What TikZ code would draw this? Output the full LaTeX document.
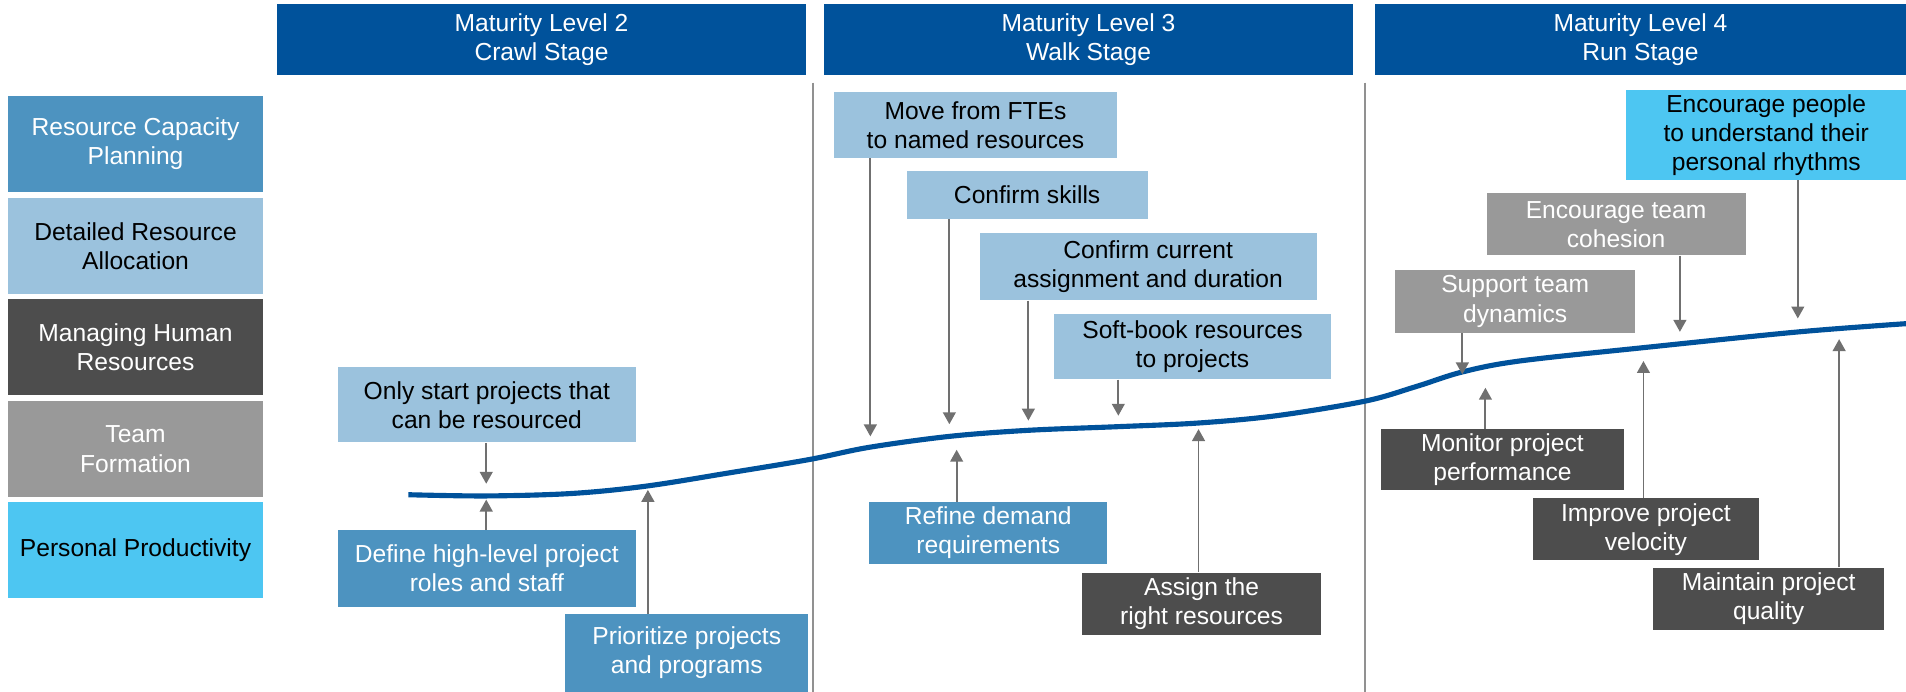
\documentclass[tikz,border=0pt]{standalone}
\usepackage{fontspec}
\setmainfont{Liberation Sans}
\usetikzlibrary{arrows.meta}

\definecolor{hblue}{RGB}{0,82,155}
\definecolor{mblue}{RGB}{77,147,192}
\definecolor{lblue}{RGB}{155,194,221}
\definecolor{dgray}{RGB}{77,77,77}
\definecolor{mgray}{RGB}{153,153,153}
\definecolor{cyanb}{RGB}{77,198,242}
\definecolor{agray}{RGB}{112,112,112}
\definecolor{sgray}{RGB}{145,145,145}

\begin{document}
\begin{tikzpicture}[x=0.025cm,y=-0.025cm]
    \tikzstyle{box} = [inner sep=0pt, align=center, font=\fontsize{14.4}{17}\selectfont]
    \tikzstyle{hdr} = [box, fill=hblue, text=white, minimum height=1.475cm]
    \tikzstyle{cat} = [minimum width=5.225cm, minimum height=1.975cm]
    \tikzstyle{rcp} = [box, fill=mblue, text=white]
    \tikzstyle{dra} = [box, fill=lblue, text=black]
    \tikzstyle{mhr} = [box, fill=dgray, text=white]
    \tikzstyle{tf}  = [box, fill=mgray, text=white]
    \tikzstyle{pp}  = [box, fill=cyanb, text=black]
    \tikzstyle{arr} = [draw=agray, line width=1.1pt, -{Triangle[width=7.5pt,length=7pt]}]
    \tikzstyle{sep} = [draw=sgray, line width=1.1pt]
    \tikzstyle{curve} = [draw=hblue, line width=3pt]

    \useasboundingbox (0,0) rectangle (1568,569);
    \clip (0,0) rectangle (1568,569);

    % stage headers
    \node[hdr, minimum width=10.875cm] (lvl2) at (445.5,32.5) {Maturity Level 2\\Crawl Stage};
    \node[hdr, minimum width=10.875cm] (lvl3) at (895.5,32.5) {Maturity Level 3\\Walk Stage};
    \node[hdr, minimum width=10.925cm] (lvl4) at (1349.5,32.5) {Maturity Level 4\\Run Stage};
    \draw[sep] (669,68) -- (669,569);
    \draw[sep] (1123,68) -- (1123,569);

    % legend
    \node[rcp, cat] (krcp) at (111.5,118.5) {Resource Capacity\\Planning};
    \node[dra, cat] (kdra) at (111.5,202.5) {Detailed Resource\\Allocation};
    \node[mhr, cat] (kmhr) at (111.5,285.5) {Managing Human\\Resources};
    \node[tf, cat]  (ktf)  at (111.5,369.5) {Team\\Formation};
    \node[pp, cat]  (kpp)  at (111.5,452.5) {Personal Productivity};

    % maturity curve
    \draw[curve] plot[smooth, tension=0.55] coordinates {(336,407) (400,408) (470,406) (531,400)
        (600,389) (666,378) (715,368) (781,359) (846,354) (920,351) (986,348) (1050,342)
        (1123,330) (1165,318) (1203,306) (1250,297) (1352,286) (1480,273) (1572,266)};

    \coordinate (t1) at (400,398);  \coordinate (t2) at (400,411);  \coordinate (t3) at (533,403);
    \coordinate (t4) at (716,359);  \coordinate (t5) at (781,349);  \coordinate (t6) at (846,346);
    \coordinate (t7) at (920,342);  \coordinate (t8) at (787,370);  \coordinate (t9) at (986,353);
    \coordinate (t10) at (1203,308); \coordinate (t11) at (1382,273); \coordinate (t12) at (1479,262);
    \coordinate (t13) at (1222,319); \coordinate (t14) at (1352,297); \coordinate (t15) at (1513,279);

    % crawl
    \node[dra, minimum width=6.125cm, minimum height=1.55cm] (only) at (400.5,333) {Only start projects that\\can be resourced};
    \node[rcp, minimum width=6.125cm, minimum height=1.575cm] (define) at (400.5,467.5) {Define high-level project\\roles and staff};
    \node[rcp, minimum width=5cm, minimum height=1.6cm] (prio) at (565,537) {Prioritize projects\\and programs};

    % walk
    \node[dra, minimum width=5.825cm, minimum height=1.35cm] (move) at (802.5,103) {Move from FTEs\\to named resources};
    \node[dra, minimum width=4.95cm, minimum height=0.975cm] (skills) at (845,160.5) {Confirm skills};
    \node[dra, minimum width=6.925cm, minimum height=1.375cm] (current) at (944.5,219.5) {Confirm current\\assignment and duration};
    \node[dra, minimum width=5.7cm, minimum height=1.35cm] (soft) at (981,285) {Soft-book resources\\to projects};
    \node[rcp, minimum width=4.9cm, minimum height=1.275cm] (refine) at (813,438.5) {Refine demand\\requirements};
    \node[mhr, minimum width=4.925cm, minimum height=1.275cm] (assign) at (988.5,496.5) {Assign the\\right resources};

    % run
    \node[pp, minimum width=5.75cm, minimum height=1.85cm] (people) at (1453,111) {Encourage people\\to understand their\\personal rhythms};
    \node[tf, minimum width=5.325cm, minimum height=1.275cm] (cohesion) at (1329.5,184.5) {Encourage team\\cohesion};
    \node[tf, minimum width=4.925cm, minimum height=1.3cm] (dynamics) at (1246.5,248) {Support team\\dynamics};
    \node[mhr, minimum width=5cm, minimum height=1.25cm] (monitor) at (1236,378) {Monitor project\\performance};
    \node[mhr, minimum width=4.65cm, minimum height=1.275cm] (velocity) at (1354,435.5) {Improve project\\velocity};
    \node[mhr, minimum width=4.75cm, minimum height=1.275cm] (quality) at (1455,492.5) {Maintain project\\quality};

    \draw[arr] (only.south -| t1) -- (t1);
    \draw[arr] (define.north -| t2) -- (t2);
    \draw[arr] (prio.north -| t3) -- (t3);
    \draw[arr] (move.south -| t4) -- (t4);
    \draw[arr] (skills.south -| t5) -- (t5);
    \draw[arr] (current.south -| t6) -- (t6);
    \draw[arr] (soft.south -| t7) -- (t7);
    \draw[arr] (refine.north -| t8) -- (t8);
    \draw[arr] (assign.north -| t9) -- (t9);
    \draw[arr] (dynamics.south -| t10) -- (t10);
    \draw[arr] (cohesion.south -| t11) -- (t11);
    \draw[arr] (people.south -| t12) -- (t12);
    \draw[arr] (monitor.north -| t13) -- (t13);
    \draw[arr] (velocity.north -| t14) -- (t14);
    \draw[arr] (quality.north -| t15) -- (t15);
\end{tikzpicture}
\end{document}
